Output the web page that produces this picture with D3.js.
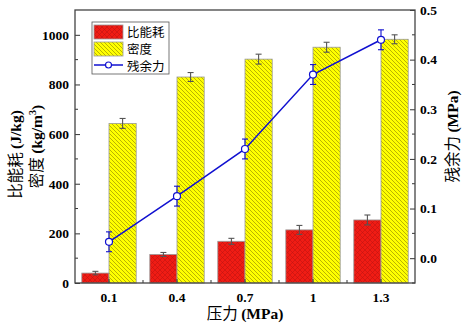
<!DOCTYPE html>
<html>
<head>
<meta charset="utf-8">
<script src="https://cdn.jsdelivr.net/npm/d3@7"></script>
<style>
  body { margin: 0; background: #fff; }
  .tick text { font-family: "Liberation Serif", serif; font-weight: bold; font-size: 13.5px; fill: #000; }
</style>
</head>
<body>
<svg id="fig" width="463" height="324"></svg>
<script>
var categories = ["0.1", "0.4", "0.7", "1", "1.3"];
var energy = [40, 115, 168, 214, 254];
var energyErr = [7, 8, 12, 18, 20];
var density = [643, 830, 902, 950, 982];
var densityErr = [20, 18, 20, 20, 18];
var residual = [0.033, 0.125, 0.22, 0.37, 0.44];
var residualErr = [0.02, 0.02, 0.02, 0.02, 0.02];
var leftTicks = [0, 200, 400, 600, 800, 1000];
var rightTicks = [0.0, 0.1, 0.2, 0.3, 0.4, 0.5];

function makeSVG() {
    var svg = d3.select("#fig");
    var left = 75, right = 415, pTop = 10, bottom = 283;

    var x = d3.scaleBand().domain(categories).range([left, right]).paddingInner(0.2).paddingOuter(0.1);
    var yL = d3.scaleLinear().domain([0, 1100]).range([bottom, pTop]);
    var yR = d3.scaleLinear().domain([-0.05, 0.5]).range([bottom, pTop]);

    // patterns
    var defs = svg.append("defs");
    var pr = defs.append("pattern").attr("id", "hatchRed").attr("patternUnits", "userSpaceOnUse")
        .attr("width", 5).attr("height", 5);
    pr.append("rect").attr("width", 5).attr("height", 5).attr("fill", "#f01c14");
    pr.append("path").attr("d", "M0,0L5,5M5,0L0,5").attr("stroke", "#b81212").attr("stroke-width", 0.5);

    var py = defs.append("pattern").attr("id", "hatchYellow").attr("patternUnits", "userSpaceOnUse")
        .attr("width", 4).attr("height", 4);
    py.append("rect").attr("width", 4).attr("height", 4).attr("fill", "#ffff00");
    py.append("path").attr("d", "M-1,-1L5,5M-1,3L1,5M3,-1L5,1").attr("stroke", "#9c9400").attr("stroke-width", 0.7);

    var bw = x.bandwidth() / 2;

    // bars
    svg.append("g").selectAll("rect").data(energy).enter().append("rect")
       .attr("x", (d, i) => x(categories[i]))
       .attr("y", d => yL(d))
       .attr("width", bw)
       .attr("height", d => bottom - yL(d))
       .attr("fill", "url(#hatchRed)")
       .attr("stroke", "#999").attr("stroke-width", 0.8);

    svg.append("g").selectAll("rect").data(density).enter().append("rect")
       .attr("x", (d, i) => x(categories[i]) + bw)
       .attr("y", d => yL(d))
       .attr("width", bw)
       .attr("height", d => bottom - yL(d))
       .attr("fill", "url(#hatchYellow)")
       .attr("stroke", "#999").attr("stroke-width", 0.8);

    // error bars
    function errBars(vals, errs, xoff, scale, color, cap) {
        var g = svg.append("g").attr("stroke", color).attr("stroke-width", 1.1);
        vals.forEach(function (v, i) {
            var cx = x(categories[i]) + xoff;
            var y1 = scale(v - errs[i]), y2 = scale(v + errs[i]);
            g.append("line").attr("x1", cx).attr("x2", cx).attr("y1", y1).attr("y2", y2);
            g.append("line").attr("x1", cx - cap).attr("x2", cx + cap).attr("y1", y1).attr("y2", y1);
            g.append("line").attr("x1", cx - cap).attr("x2", cx + cap).attr("y1", y2).attr("y2", y2);
        });
    }
    errBars(energy, energyErr, bw / 2, yL, "#555", 3);
    errBars(density, densityErr, bw * 1.5, yL, "#555", 3);

    // line
    var line = d3.line().x((d, i) => x(categories[i]) + bw).y(d => yR(d));
    svg.append("path").datum(residual).attr("d", line)
       .attr("fill", "none").attr("stroke", "#1010d0").attr("stroke-width", 1.5);
    errBars(residual, residualErr, bw, yR, "#1010d0", 3);
    svg.append("g").selectAll("circle").data(residual).enter().append("circle")
       .attr("cx", (d, i) => x(categories[i]) + bw)
       .attr("cy", d => yR(d))
       .attr("r", 3.5)
       .attr("fill", "white").attr("stroke", "#1010d0").attr("stroke-width", 1.2);

    // axes
    var ax = svg.append("g").attr("transform", "translate(0," + bottom + ")")
       .call(d3.axisBottom(x).tickSizeInner(-4).tickSizeOuter(0).tickPadding(9));
    var minorX = categories.slice(0, -1).map(c => x(c) + bw + x.step() / 2);
    svg.append("g").selectAll("line").data(minorX).enter().append("line")
       .attr("x1", d => d).attr("x2", d => d).attr("y1", bottom).attr("y2", bottom - 3)
       .attr("stroke", "#333");

    var axL = svg.append("g").attr("transform", "translate(" + left + ",0)")
       .call(d3.axisLeft(yL).tickValues(leftTicks).tickSizeInner(-5).tickSizeOuter(0).tickPadding(6).tickFormat(d3.format("d")));
    svg.append("g").selectAll("line").data(d3.range(100, 1100, 200)).enter().append("line")
       .attr("x1", left).attr("x2", left + 3).attr("y1", d => yL(d)).attr("y2", d => yL(d))
       .attr("stroke", "#333");

    var axR = svg.append("g").attr("transform", "translate(" + right + ",0)")
       .call(d3.axisRight(yR).tickValues(rightTicks).tickSizeInner(-5).tickSizeOuter(0).tickPadding(5).tickFormat(d3.format(".1f")));
    svg.append("g").selectAll("line").data([-0.05, 0.05, 0.15, 0.25, 0.35, 0.45]).enter().append("line")
       .attr("x1", right).attr("x2", right - 3).attr("y1", d => yR(d)).attr("y2", d => yR(d))
       .attr("stroke", "#333");

    [ax, axL, axR].forEach(function (a) {
        a.select(".domain").remove();
        a.selectAll(".tick line").attr("stroke", "#333");
    });

    // frame
    svg.append("rect").attr("x", left).attr("y", pTop).attr("width", right - left).attr("height", bottom - pTop)
       .attr("fill", "none").attr("stroke", "#444").attr("stroke-width", 1.3);

    // titles
    function title(sel, cn, en, sup) {
        sel.append("tspan").attr("font-family", "Noto Sans CJK SC").attr("font-weight", "normal").text(cn);
        sel.append("tspan").attr("font-family", "Liberation Serif").attr("font-weight", "bold").text(en);
        if (sup) {
            sel.append("tspan").attr("font-family", "Liberation Serif").attr("font-weight", "bold")
               .attr("font-size", "10px").attr("dy", -6).text(sup);
            sel.append("tspan").attr("font-family", "Liberation Serif").attr("font-weight", "bold")
               .attr("dy", 6).text(")");
        }
    }
    var cy = (pTop + bottom) / 2;
    title(svg.append("text").attr("transform", "translate(21," + (cy + 8) + ") rotate(-90)")
       .attr("text-anchor", "middle").attr("font-size", "15.5px"), "比能耗 ", "(J/kg)");
    title(svg.append("text").attr("transform", "translate(42," + cy + ") rotate(-90)")
       .attr("text-anchor", "middle").attr("font-size", "15.5px"), "密度 ", "(kg/m", "3");
    title(svg.append("text").attr("transform", "translate(458," + (cy - 10) + ") rotate(-90)")
       .attr("text-anchor", "middle").attr("font-size", "15.5px"), "残余力 ", "(MPa)");
    title(svg.append("text").attr("x", (left + right) / 2).attr("y", 319)
       .attr("text-anchor", "middle").attr("font-size", "15.5px"), "压力 ", "(MPa)");

    // legend
    var lg = svg.append("g").attr("transform", "translate(92,22)");
    lg.append("rect").attr("width", 77).attr("height", 52).attr("fill", "white")
      .attr("stroke", "#555").attr("stroke-width", 0.8);
    lg.append("rect").attr("x", 2).attr("y", 3).attr("width", 29).attr("height", 14)
      .attr("fill", "url(#hatchRed)").attr("stroke", "#999").attr("stroke-width", 0.8);
    lg.append("rect").attr("x", 2).attr("y", 20).attr("width", 29).attr("height", 14)
      .attr("fill", "url(#hatchYellow)").attr("stroke", "#999").attr("stroke-width", 0.8);
    lg.append("line").attr("x1", 2).attr("x2", 31).attr("y1", 43).attr("y2", 43)
      .attr("stroke", "#1010d0").attr("stroke-width", 1.5);
    lg.append("circle").attr("cx", 16.5).attr("cy", 43).attr("r", 3)
      .attr("fill", "white").attr("stroke", "#1010d0").attr("stroke-width", 1.2);
    ["比能耗", "密度", "残余力"].forEach(function (t, i) {
        lg.append("text").attr("x", 35).attr("y", 15 + i * 17)
          .attr("font-family", "Noto Sans CJK SC").attr("font-size", "12.5px").text(t);
    });
}
makeSVG();
</script>
</body>
</html>
